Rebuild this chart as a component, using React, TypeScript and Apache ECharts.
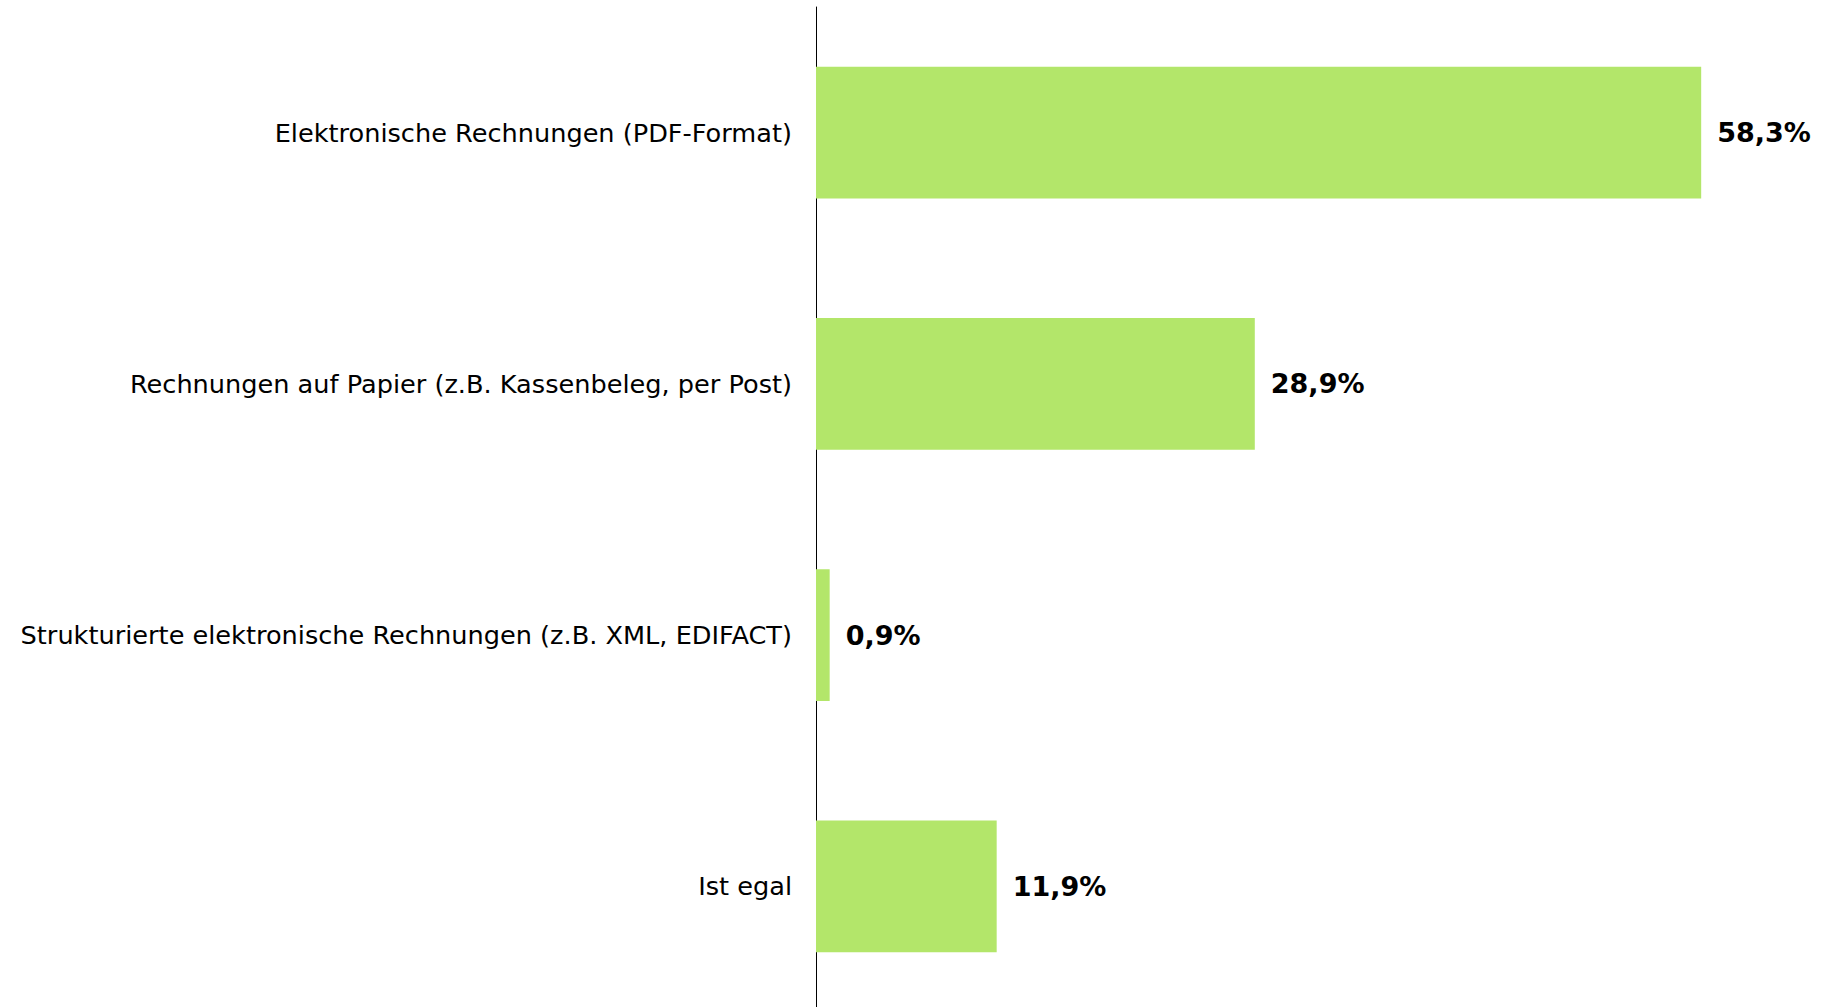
import React, { useEffect, useRef } from "react";
import * as echarts from "echarts";

const categories = [
  "Elektronische Rechnungen (PDF-Format)",
  "Rechnungen auf Papier (z.B. Kassenbeleg, per Post)",
  "Strukturierte elektronische Rechnungen (z.B. XML, EDIFACT)",
  "Ist egal",
];
const values = [58.3, 28.9, 0.9, 11.9];

export default function App() {
  const ref = useRef<HTMLDivElement>(null);
  useEffect(() => {
    if (!ref.current) return;
    const chart = echarts.init(ref.current, null, { renderer: "svg" });
    chart.setOption({
      animation: false,
      backgroundColor: "#ffffff",
      grid: { left: 816, right: 95, top: 7, bottom: 0, containLabel: false },
      xAxis: {
        type: "value",
        min: 0,
        max: 60,
        show: false,
      },
      yAxis: {
        type: "category",
        data: categories,
        inverse: true,
        axisLine: { show: true, lineStyle: { color: "#000000", width: 1 } },
        axisTick: { show: false },
        axisLabel: {
          margin: 24,
          color: "#000000",
          fontFamily: "DejaVu Sans, sans-serif",
          fontSize: 25.6,
        },
      },
      series: [
        {
          type: "bar",
          data: values,
          barCategoryGap: "47.5%",
          itemStyle: { color: "#b3e66a" },
          label: {
            show: true,
            position: "right",
            distance: 16,
            color: "#000000",
            fontFamily: "DejaVu Sans, sans-serif",
            fontWeight: "bold",
            fontSize: 27,
            formatter: (p: any) => p.value.toFixed(1).replace(".", ",") + "%",
          },
        },
      ],
    });
    return () => chart.dispose();
  }, []);
  return (
    <div
      ref={ref}
      style={{ position: "fixed", left: 0, top: 0, width: 1822, height: 1012, background: "#fff" }}
    />
  );
}
